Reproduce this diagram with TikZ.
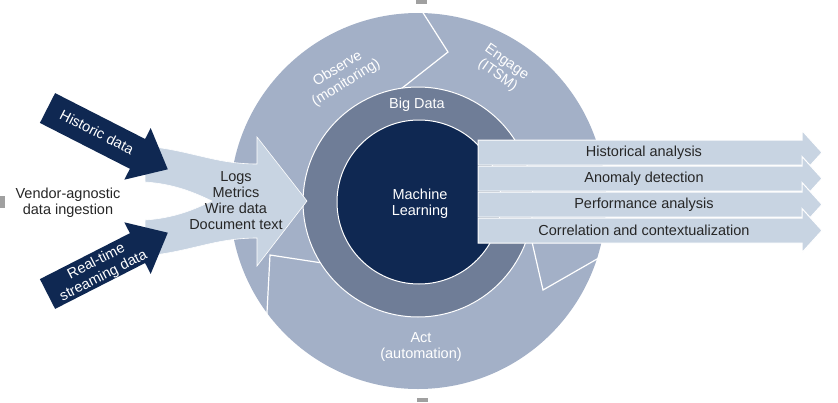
\documentclass[tikz,border=0pt]{standalone}
\usepackage{fontspec}
\setmainfont{Liberation Sans}
\definecolor{ring}{RGB}{163,176,199}
\definecolor{midring}{RGB}{111,125,151}
\definecolor{navy}{RGB}{15,40,82}
\definecolor{pale}{RGB}{200,212,226}
\definecolor{ink}{RGB}{38,38,38}
\definecolor{handle}{RGB}{160,160,160}
\begin{document}
\begin{tikzpicture}[x=1pt,y=-1pt,
  lbl/.style={font=\fontsize{14.5}{16}\selectfont, align=center, inner sep=0pt},
  wlbl/.style={lbl,text=white},
  dlbl/.style={lbl,text=ink},
  sepline/.style={draw=white,line width=1.2pt,line join=miter},
  outarrow/.style={fill=pale,draw=white,line width=1pt},
  darkarrow/.style={fill=navy},
  palearrow/.style={fill=pale,draw=white,line width=0.6pt}]
\useasboundingbox (0,0) rectangle (838,402);
% rings
\coordinate (ctr) at (418,201);
\fill[ring] (ctr) circle[radius=188pt];
\draw[sepline] (420,8) -- (448,52) -- (392,96);
\draw[sepline] (611,251) -- (543,290) -- (527,220);
\draw[sepline] (266.5,322) -- (270,255) -- (332,264.5);
\filldraw[fill=midring,draw=white,line width=1pt] (418,202) circle[radius=115pt];
\filldraw[fill=navy,draw=white,line width=1pt] (419,202) circle[radius=82pt];
\node[wlbl,rotate=32] (observe) at (342,76) {Observe\\(monitoring)};
\node[wlbl,rotate=-35] (engage) at (502,69) {Engage\\(ITSM)};
\node[wlbl] (bigdata) at (417,105) {Big Data};
\node[wlbl] (ml) at (420,204) {Machine\\Learning};
\node[wlbl] (act) at (421,347) {Act\\(automation)};
% ingestion arrow
\filldraw[palearrow]
 (145,146) .. controls (190,150) and (215,164) .. (257,164)
 -- (257,137) -- (307,201) -- (257,266) -- (257,238)
 .. controls (215,238) and (190,252) .. (145,256)
 -- (145,220) .. controls (175,218) and (195,209) .. (212,201)
 .. controls (195,193) and (175,184) .. (145,182) -- cycle;
\node[dlbl] (ingest) at (236,201) {Logs\\Metrics\\Wire data\\Document text};
% dark arrows
\fill[darkarrow] (55.1,93.1) -- (145.1,139.0) -- (150.7,128.1) -- (167.8,169.3)
  -- (124.3,179.7) -- (129.9,168.8) -- (39.9,122.9) -- cycle;
\fill[darkarrow] (55.1,308.9) -- (145.1,263.0) -- (150.7,273.9) -- (167.8,232.7)
  -- (124.3,222.3) -- (129.9,233.2) -- (39.9,279.1) -- cycle;
\node[wlbl,rotate=-27] (hist) at (97,132) {Historic data};
\node[wlbl,rotate=27] (rt) at (100,269) {Real-time\\streaming data};
\node[dlbl] (vendor) at (68,203) {Vendor-agnostic\\data ingestion};
% output arrows
\foreach \c/\t/\nm in {152.5/Historical analysis/oa1,178.5/Anomaly detection/oa2,
  204.5/Performance analysis/oa3,230.5/Correlation and contextualization/oa4}{
  \filldraw[outarrow] (478,\c-12.5) -- (802,\c-12.5) -- (802,\c-22) -- (822,\c)
    -- (802,\c+22) -- (802,\c+12.5) -- (478,\c+12.5) -- cycle;
  \node[dlbl] (\nm) at (644,\c) {\t};
}
% handles
\fill[handle] (416,0) rectangle (427,4);
\fill[handle] (417,398) rectangle (428,402);
\fill[handle] (0,196) rectangle (5,208);
\end{tikzpicture}
\end{document}
